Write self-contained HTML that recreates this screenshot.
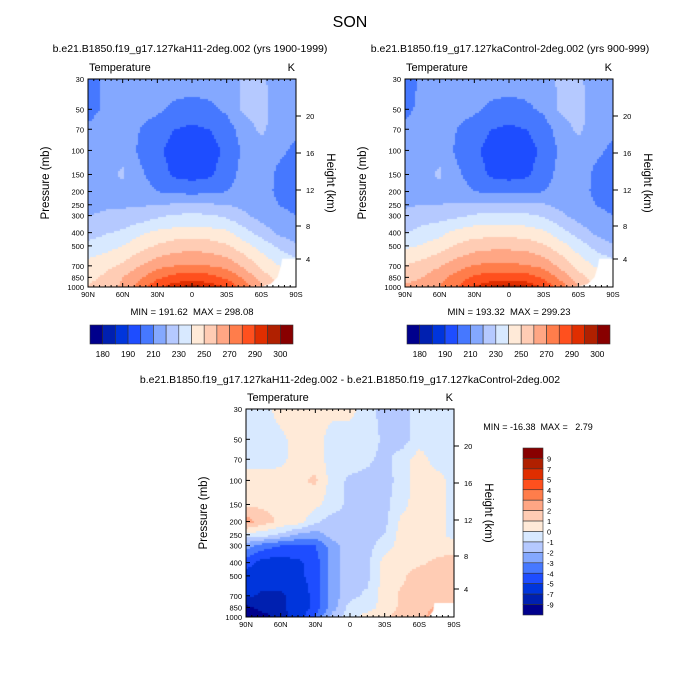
<!DOCTYPE html>
<html><head><meta charset="utf-8"><style>
body{margin:0;background:#fff;font-family:"Liberation Sans",sans-serif}
#root{position:relative;width:700px;height:700px;overflow:hidden}
canvas{position:absolute}
svg{position:absolute;left:0;top:0}
text{white-space:pre}
</style></head><body>
<div id="root">
<canvas id="c1" width="208" height="208" style="left:88px;top:79px"></canvas>
<canvas id="c2" width="208" height="208" style="left:405px;top:79px"></canvas>
<canvas id="c3" width="208" height="208" style="left:246px;top:409px"></canvas>
<svg id="ov" width="700" height="700"></svg>
</div>
<script>
const lats=[90,75,60,45,30,15,0,-15,-30,-45,-60,-75,-90];
const plevs=[30,50,70,100,150,200,250,300,400,500,700,850,1000];
const histT=[
[205,212,215,215,215,215,215,215,215,222,222,215,212],
[206,212,215,214,212,208,206,208,212,222,224,215,212],
[212,215,214,210,205,200,198,200,205,215,222,215,212],
[214,216,218,208,202,196,194,196,202,212,216,212,208],
[216,218,221,212,205,198,196,198,205,214,215,208,206],
[217,218,218,215,210,208,207,208,210,214,214,208,206],
[218,219,219,219,220,221,222,221,220,217,214,210,208],
[220,221,222,224,228,231,232,231,228,222,216,212,210],
[225,229,232,238,242,244,245,244,242,234,226,218,214],
[233,236,240,246,251,255,256,255,251,244,236,228,222],
[244,247,252,260,267,270,271,270,267,258,248,240,236],
[247,252,260,268,278,284,286,284,278,268,255,246,242],
[250,256,262,275,287,295,297,295,288,276,262,250,246]];
const ctrlT=[
[205,212,215,215,215,215,215,215,216,222,222,215,212],
[207,213,215,214,212,208,206,208,212,222,224,215,212],
[213,215,214,210,205,200,198,200,205,215,222,215,212],
[214,216,218,208,202,196,194,196,202,212,216,212,208],
[216,218,221,212,205,198,196,198,205,214,215,208,206],
[216,218,218,215,210,208,208,208,210,214,214,208,206],
[219,220,220,221,222,222,223,222,221,217,214,210,208],
[222,224,226,228,231,233,233,232,229,222,216,212,210],
[229,234,237,243,246,246,246,245,242,234,226,218,214],
[238,241,245,251,255,257,257,256,251,244,235,227,221],
[250,254,259,266,271,272,272,271,267,257,247,239,235],
[255,260,267,274,282,286,287,285,278,267,254,245,241],
[262,266,270,280,291,296,298,296,288,275,260,249,245]];
const diffT=[
[-0.5,-0.5,0.5,0.5,0.5,0.3,0.3,-0.5,-1.5,-1.5,-0.5,-0.5,-0.5],
[-0.5,-0.5,-0.3,0.5,0.5,-0.5,-0.5,-0.5,-1.2,-1.5,-0.5,-0.5,-0.5],
[-0.5,-0.5,-0.3,0.5,0.5,-0.5,-0.5,-0.8,-1.3,-0.5,0.5,-0.5,-0.5],
[0.5,0.5,0.5,0.8,1.2,-0.5,-1.2,-1.3,-1.5,-0.5,0.5,0.5,-0.5],
[0.8,0.8,0.6,0.8,0.3,-0.5,-1.3,-1.3,-1.3,-0.3,0.5,0.5,-0.5],
[2.5,1.5,0.8,0.5,-0.8,-1.5,-1.3,-1.3,-1.3,0.3,0.5,0.5,-0.5],
[-0.5,-0.5,-1.2,-2.2,-2.5,-1.5,-1.2,-1.3,-1.0,0.5,0.5,0.5,-0.5],
[-2.5,-3.5,-4,-4.2,-4,-2.5,-1.3,-1.3,-0.6,0.5,0.5,0.5,0.5],
[-4.5,-5.5,-5.5,-5.2,-4.5,-2.5,-1.3,-1.3,0.5,0.7,0.8,1.2,1.5],
[-5.5,-5.5,-5.5,-5.3,-4.5,-2.5,-1.3,-1.3,0.5,0.8,1.5,1.5,1.5],
[-6.5,-7.5,-7.5,-6,-4.5,-2.5,-1.3,-0.8,0.5,1.2,1.5,1.5,1.5],
[-9.5,-8,-7.5,-6,-4.5,-2.5,-0.6,-0.5,0.5,1.2,1.5,2.2,2.2],
[-12,-10,-8,-5.5,-4,-1.5,-0.5,0.5,0.8,1.5,1.7,2.5,2.5]];
const terrainLat=[-50,-60,-68,-74,-77,-78,-90,-90];
const terrainP=[1000,990,950,850,700,620,620,1000];
const diffMaskLat=[-68,-72,-73,-90,-90];
const diffMaskP=[1000,900,790,790,1000];
const tLevels=[180,185,190,200,210,220,230,240,250,260,270,280,290,295,300];
const tLabels=["180","190","210","230","250","270","290","300"];
const dLevels=[-9,-7,-5,-4,-3,-2,-1,0,1,2,3,4,5,7,9];
const dLabels=["9","7","5","4","3","2","1","0","-1","-2","-3","-4","-5","-7","-9"];
const colors=["#00008C","#0020B0","#0035DC","#1E4DFF","#4678FF","#84A8FF","#B5C9FF","#D8E9FF","#FFEAD8","#FFCCB4","#FFA684","#FF7D4B","#FF501E","#E02E00","#B02000","#880000"];
const pTicks=[30,50,70,100,150,200,250,300,400,500,700,850,1000];
const latTicks=[90,60,30,0,-30,-60,-90];
const latTickLabels=["90N","60N","30N","0","30S","60S","90S"];
const hTicks=[20,16,12,8,4];
const hOffsets=[37,74,111,147,180];

const W=208,H=208;
function yOfP(p){return Math.log(p/30)/Math.log(1000/30)*H;}
function xOfLat(l){return (90-l)/180*W;}
function sample(g,lat,p){
  let i=0;while(i<lats.length-2&&lat<lats[i+1])i++;
  let j=0;while(j<plevs.length-2&&p>plevs[j+1])j++;
  const fx=(lats[i]-lat)/(lats[i]-lats[i+1]);
  const fy=Math.log(p/plevs[j])/Math.log(plevs[j+1]/plevs[j]);
  const a=g[j][i],b=g[j][i+1],c=g[j+1][i],d=g[j+1][i+1];
  return (a*(1-fx)+b*fx)*(1-fy)+(c*(1-fx)+d*fx)*fy;
}
function colorFor(v,lv){let k=0;while(k<lv.length&&v>=lv[k])k++;return colors[k];}
function drawField(id,g,lv,mLat,mP){
  const ctx=document.getElementById(id).getContext('2d');
  for(let y=0;y<H;y+=2)for(let x=0;x<W;x+=2){
    const lat=90-(x+1)/W*180;
    const p=30*Math.exp((y+1)/H*Math.log(1000/30));
    ctx.fillStyle=colorFor(sample(g,lat,p),lv);ctx.fillRect(x,y,2,2);
  }
  ctx.fillStyle='#fff';ctx.beginPath();
  mLat.forEach((l,i)=>{const X=xOfLat(l),Y=yOfP(mP[i]);if(i)ctx.lineTo(X,Y);else ctx.moveTo(X,Y);});
  ctx.closePath();ctx.fill();
}
drawField('c1',histT,tLevels,terrainLat,terrainP);
drawField('c2',ctrlT,tLevels,terrainLat,terrainP);
drawField('c3',diffT,dLevels,diffMaskLat,diffMaskP);

const svg=document.getElementById('ov');const NS='http://www.w3.org/2000/svg';
function el(tag,attrs,txt){const e=document.createElementNS(NS,tag);for(const k in attrs)e.setAttribute(k,attrs[k]);if(txt!==undefined)e.textContent=txt;svg.appendChild(e);return e;}
function txt(x,y,s,size,name,anchor,rot){const e=el('text',{x:x,y:y,'font-size':size,'text-anchor':anchor||'middle','font-family':'Liberation Sans, sans-serif',fill:'#000'},s);
  if(rot)e.setAttribute('transform','rotate('+rot+' '+x+' '+y+')');
  
  return e;}
function axes(ox,oy,pre){
  const f=el('rect',{x:ox,y:oy,width:W,height:H,fill:'none',stroke:'#000','stroke-width':1});
  
  
  pTicks.forEach(p=>{const y=oy+yOfP(p);
    el('line',{x1:ox,x2:ox+4,y1:y,y2:y,stroke:'#000'});
    txt(ox-4,y+3,String(p),7.5,pre+'-p-tick-label','end');});
  for(let l=90;l>=-90;l-=5){const x=ox+xOfLat(l);const big=l%30===0;
    el('line',{x1:x,x2:x,y1:oy+H,y2:oy+H-(big?4:2),stroke:'#000'});
    el('line',{x1:x,x2:x,y1:oy,y2:oy+(big?4:2),stroke:'#000'});}
  latTicks.forEach((l,i)=>txt(ox+xOfLat(l),oy+H+10,latTickLabels[i],7.5,pre+'-lat-tick-label'));
  hTicks.forEach((h,i)=>{const y=oy+hOffsets[i];
    el('line',{x1:ox+W,x2:ox+W+5,y1:y,y2:y,stroke:'#000'});
    txt(ox+W+10,y+3,String(h),7.5,pre+'-height-tick-label','start');});
  txt(ox+1,oy-8,'Temperature',11,pre+'-field-name','start');
  txt(ox+W-1,oy-8,'K',11,pre+'-units','end');
  txt(ox-39,oy+H/2,'Pressure (mb)',11.5,pre+'-y-axis-title','middle',-90);
  txt(ox+W+31,oy+H/2,'Height (km)',11.5,pre+'-y2-axis-title','middle',90);
}
axes(88,79,'hist');axes(405,79,'ctrl');axes(246,409,'diff');

txt(350,27,'SON',16,'main-title');
txt(190,52,'b.e21.B1850.f19_g17.127kaH11-2deg.002 (yrs 1900-1999)',10.5,'hist-subtitle');
txt(510,52,'b.e21.B1850.f19_g17.127kaControl-2deg.002 (yrs 900-999)',10.5,'ctrl-subtitle');
txt(350,383,'b.e21.B1850.f19_g17.127kaH11-2deg.002 - b.e21.B1850.f19_g17.127kaControl-2deg.002',10.5,'diff-subtitle');
txt(192,315,'MIN = 191.62  MAX = 298.08',9.5,'hist-minmax');
txt(509,315,'MIN = 193.32  MAX = 299.23',9.5,'ctrl-minmax');
txt(538,430,'MIN = -16.38  MAX =   2.79',9,'diff-minmax');

function hbar(ox,pre){const bw=203/16;
  colors.forEach((c,i)=>{const r=el('rect',{x:ox+i*bw,y:325,width:bw,height:19,fill:c,stroke:'#333','stroke-width':0.6});
    
    });
  tLabels.forEach((s,i)=>txt(ox+(1+2*i)*bw,357,s,8.5,pre+'-colorbar-label'));}
hbar(90,'hist');hbar(407,'ctrl');
const bh=167/16;
colors.slice().reverse().forEach((c,i)=>{const r=el('rect',{x:523,y:448+i*bh,width:20,height:bh,fill:c,stroke:'#333','stroke-width':0.6});
  
  });
dLabels.forEach((s,i)=>txt(547,448+(i+1)*bh+3,s,7.5,'diff-colorbar-label','start'));
</script>
</body></html>
